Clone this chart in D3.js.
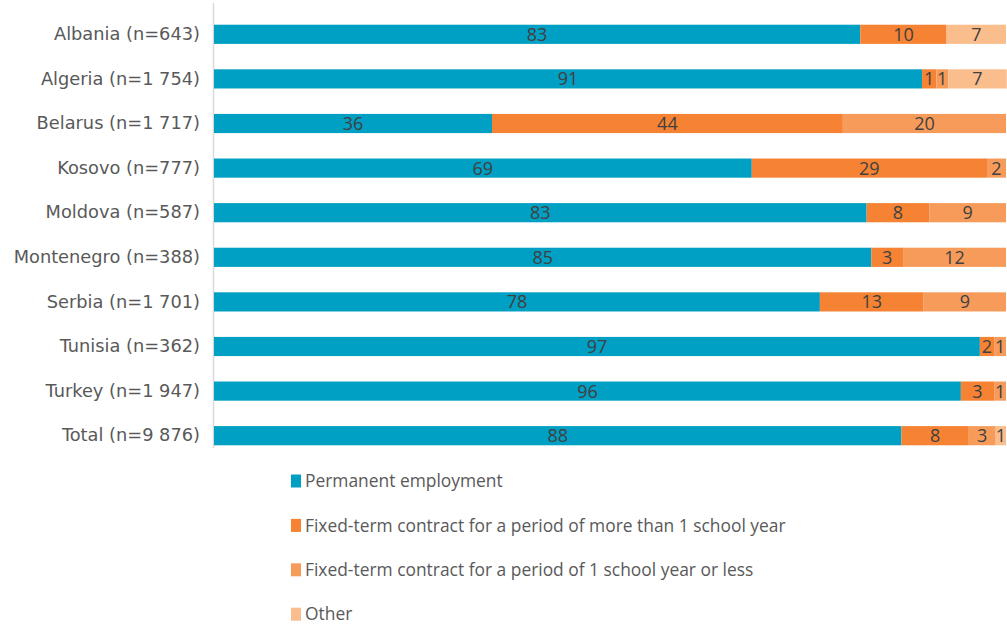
<!DOCTYPE html>
<html>
	<head>
		<meta charset="utf-8">
		<title>Type of employment contract</title>
		<style>
			body { margin: 0; background: #ffffff; }
			text { font-family: "Open Sans", "DejaVu Sans", sans-serif; }
		</style>
	</head>
	<body>
		<div id="chart"></div>

		<script src="https://cdn.jsdelivr.net/npm/d3@7"></script>
		<script>
			// categories (y axis)
			var categories = ["Albania (n=643)", "Algeria (n=1 754)", "Belarus (n=1 717)", "Kosovo (n=777)",
				"Moldova (n=587)", "Montenegro (n=388)", "Serbia (n=1 701)", "Tunisia (n=362)",
				"Turkey (n=1 947)", "Total (n=9 876)"];

			var seriesNames = ["Permanent employment",
				"Fixed-term contract for a period of more than 1 school year",
				"Fixed-term contract for a period of 1 school year or less",
				"Other"];

			// bar shares as drawn (percent of row)
			var permanent = [81.6, 89.4, 35.1, 67.9, 82.4, 83.0, 76.5, 96.7, 94.3, 86.8];
			var fixedLong = [10.9, 1.8, 44.3, 29.7, 7.9, 4.0, 13.1, 1.8, 4.2, 8.5];
			var fixedShort = [0, 1.5, 20.6, 2.4, 9.7, 13.0, 10.4, 1.5, 1.5, 3.4];
			var other = [7.5, 7.4, 0, 0, 0, 0, 0, 0, 0, 1.3];

			// data labels as printed on the bars
			var permanentLabels = [83, 91, 36, 69, 83, 85, 78, 97, 96, 88];
			var fixedLongLabels = [10, 1, 44, 29, 8, 3, 13, 2, 3, 8];
			var fixedShortLabels = [null, 1, 20, 2, 9, 12, 9, 1, 1, 3];
			var otherLabels = [7, 7, null, null, null, null, null, null, null, 1];

			var colors = ["#009fc4", "#f58333", "#f79b5a", "#fabd8c"];

			var w = 1007,
				h = 626,
				left = 214,
				right = 1006;

			var shares = [permanent, fixedLong, fixedShort, other];
			var labels = [permanentLabels, fixedLongLabels, fixedShortLabels, otherLabels];

			var rows = categories.map(function(c, i){
				var row = {cat: c};
				seriesNames.forEach(function(s, k){
					row[s] = shares[k][i];
				});
				return row;
			});

			var stack = d3.stack().keys(seriesNames);
			var layers = stack(rows);

			var x = d3.scaleLinear().domain([0, 100]).range([left, right]);
			var y = d3.scaleBand().domain(categories).range([12, 458]).paddingInner(0.57).paddingOuter(0.285);

			var svg = d3.select("#chart").append("svg")
				.attr("width", w)
				.attr("height", h);

			// axis line
			svg.append("line")
				.attr("x1", left - 0.5).attr("x2", left - 0.5)
				.attr("y1", 3).attr("y2", 448)
				.attr("stroke", "#d9d9d9")
				.attr("stroke-width", 1.5);

			var groups = svg.selectAll("g.layer")
				.data(layers)
				.enter()
				.append("g")
					.attr("class", "layer")
					.attr("fill", function(d, k){ return colors[k]; });

			groups.selectAll("rect")
				.data(function(d){ return d; })
				.enter()
				.append("rect")
					.attr("x", function(d){ return x(d[0]); })
					.attr("y", function(d){ return y(d.data.cat); })
					.attr("width", function(d){ return x(d[1]) - x(d[0]); })
					.attr("height", y.bandwidth());

			// data labels
			groups.each(function(layer, k){
				d3.select(this).selectAll("text")
					.data(layer.filter(function(d, i){ return labels[k][i] != null; }))
					.enter()
					.append("text")
						.attr("x", function(d){ return (x(d[0]) + x(d[1])) / 2; })
						.attr("y", function(d){ return y(d.data.cat) + y.bandwidth() / 2; })
						.attr("dy", "0.36em")
						.attr("text-anchor", "middle")
						.attr("fill", "#404040")
						.attr("font-size", "18px")
						.text(function(d){ return labels[k][categories.indexOf(d.data.cat)]; });
			});

			// category labels
			var yAxis = d3.axisLeft(y).tickSize(0).tickPadding(14);
			var ga = svg.append("g")
				.attr("transform", "translate(" + left + ",0)")
				.call(yAxis);
			ga.select(".domain").remove();
			ga.selectAll("text")
				.attr("font-size", "17.8px")
				.attr("fill", "#595959")
				.style("font-family", "'DejaVu Sans', sans-serif");

			// legend
			var legend = svg.selectAll("g.legend")
				.data(seriesNames)
				.enter()
				.append("g")
					.attr("class", "legend")
					.attr("transform", function(d, i){ return "translate(291," + (481 + i * 44.4) + ")"; });

			legend.append("rect")
				.attr("x", 0)
				.attr("y", -6.5)
				.attr("width", 10)
				.attr("height", 13)
				.attr("fill", function(d, i){ return colors[i]; });

			legend.append("text")
				.attr("x", 14)
				.attr("dy", "0.36em")
				.attr("font-size", "17.4px")
				.attr("fill", "#595959")
				.text(function(d){ return d; });
		</script>
	</body>
</html>
